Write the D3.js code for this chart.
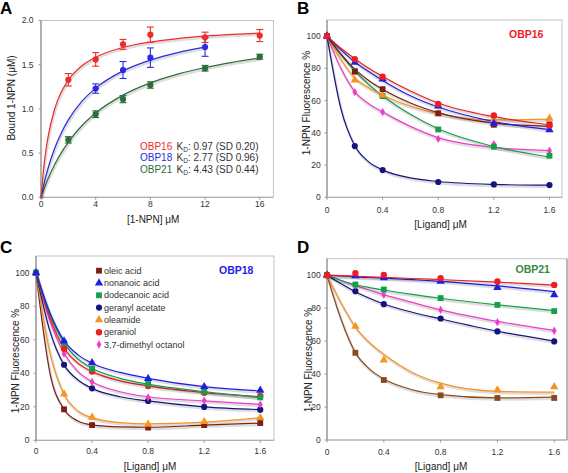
<!DOCTYPE html>
<html><head><meta charset="utf-8">
<script src="https://cdn.jsdelivr.net/npm/d3@7"></script>
<style>body{margin:0;background:#fff}svg{display:block}text{font-family:Arial,"Liberation Sans",sans-serif}</style>
</head><body><svg id="c" width="568" height="473"></svg>
<script>
// ---------- Panel A data ----------
const npnConc = [2, 4, 6, 8, 12, 16];
const obp16Bound = [1.33, 1.56, 1.73, 1.84, 1.81, 1.83];
const obp16Sd = [0.07, 0.077, 0.056, 0.086, 0.058, 0.068];
const obp18Bound = [null, 1.23, 1.44, 1.58, 1.70, null];
const obp18Sd = [null, 0.053, 0.096, 0.11, 0.105, null];
const obp21Bound = [0.65, 0.94, 1.11, 1.27, 1.46, 1.59];
const obp21Sd = [0.036, 0.038, 0.04, 0.036, 0.032, 0.028];
const fitNpn = [0, 0.25, 0.5, 1, 1.5, 2, 3, 4, 6, 8, 10, 12, 14, 16];
const obp16BoundFit = [0, 0.404, 0.67, 1.0, 1.196, 1.327, 1.489, 1.585, 1.696, 1.757, 1.796, 1.823, 1.842, 1.857];
const obp18BoundFit = [0, 0.173, 0.32, 0.554, 0.734, 0.876, 1.087, 1.235, 1.43, 1.552, 1.637, 1.698];
const obp21BoundFit = [0, 0.107, 0.204, 0.37, 0.508, 0.625, 0.812, 0.954, 1.156, 1.294, 1.393, 1.468, 1.527, 1.574];
const proteinNames = ["OBP16", "OBP18", "OBP21"];
const kdTexts = [": 0.97 (SD 0.20)", ": 2.77 (SD 0.96)", ": 4.43 (SD 0.44)"];
const boundTicks = [0, 0.5, 1.0, 1.5, 2.0];
const npnTicks = [0, 4, 8, 12, 16];

// ---------- Panels B, C, D data ----------
const ligands = ["oleic acid", "nonanoic acid", "dodecanoic acid", "geranyl acetate", "oleamide", "geraniol", "3,7-dimethyl octanol"];
const ligandConc = [0, 0.2, 0.4, 0.8, 1.2, 1.6];
const fitConc = [0, 0.1, 0.2, 0.3, 0.4, 0.6, 0.8, 1.2, 1.6];
const fluorTicks = [0, 20, 40, 60, 80, 100];
const ligandTicks = [0, 0.4, 0.8, 1.2, 1.6];

const obp16Fluor = [
  [100, 77.9, 67.1, 52.1, 45.0, 45.2],
  [100, 83.7, 73.3, 56.6, 45.9, 41.9],
  [100, 78.5, 62.8, 42.1, 31.4, 25.8],
  [100, 31.8, 16.9, 9.5, 8.0, 7.6],
  [100, 72.7, 63.4, 51.7, 47.9, 49.0],
  [100, 85.7, 74.8, 57.9, 50.8, 44.6],
  [100, 65.3, 52.9, 36.2, 33.0, 28.9]
];
const obp16Fit = [
  [100, 89, 79.5, 72.5, 67, 58.5, 52.5, 46, 44],
  [100, 91.5, 84, 78, 72.5, 63, 56, 47, 42],
  [100, 88.5, 78.5, 70, 63, 51.5, 42.5, 31.5, 25],
  [100, 55, 32, 22, 17, 12, 9.8, 8, 7.5],
  [100, 85.5, 74, 68, 63.5, 56.5, 52, 48, 48.5],
  [100, 92.5, 86, 80, 75, 66, 58.5, 50, 45],
  [100, 80, 65.5, 58, 53, 44, 37, 31, 29]
];
const obp18Fluor = [
  [100, 18.5, 9.1, 7.6, 9.1, 10.3],
  [100, 59.2, 46.3, 36.8, 32.0, 29.8],
  [100, 58.0, 42.7, 33.6, 29.0, 25.6],
  [100, 45.1, 31.0, 23.5, 19.9, 18.3],
  [100, 27.6, 13.7, 9.5, 11.1, 13.5],
  [100, 54.7, 41.0, 32.4, 28.4, 26.4],
  [100, 51.7, 34.8, 25.6, 23.7, 21.3]
];
const obp18Fit = [
  [100, 40, 18.5, 11.5, 9.2, 8, 7.8, 9, 10.3],
  [100, 76, 59.5, 51, 46, 40.5, 37, 32, 29.5],
  [100, 75, 58, 48.5, 43, 37, 33.5, 29, 25.5],
  [100, 65, 45, 36, 31, 26, 23.5, 20, 18.3],
  [100, 52, 27.5, 17.5, 13.5, 10.5, 9.8, 10.8, 13.5],
  [100, 73, 55, 46, 41, 35.5, 32.5, 28.5, 26],
  [100, 71, 52, 41, 35, 29, 26, 23.5, 21.5]
];
const obp21Fluor = [
  [100, 52.9, 36.4, 27.1, 25.5, 25.5],
  [100, 99.6, 98.4, 96.2, 92.5, 88.1],
  [100, 94.3, 91.3, 86.1, 82.0, 78.2],
  [100, 90.3, 82.4, 73.7, 65.9, 59.8],
  [100, 68.9, 48.5, 32.3, 30.3, 32.3],
  [100, 101.2, 100.2, 98.2, 96.2, 94.1],
  [100, 93.9, 88.1, 79.0, 71.5, 66.3]
];
const obp21Fit = [
  [100, 73, 53, 43, 37, 30.5, 27.5, 25.5, 26],
  [100, 99.5, 99, 98.6, 98.2, 97.3, 96.3, 93.5, 90],
  [100, 96.8, 94.2, 92.5, 91, 88.3, 86, 82, 78.5],
  [100, 94.8, 90, 86, 82.5, 77.5, 73.5, 66, 60],
  [100, 83, 68.5, 59, 52, 41, 34.5, 29.5, 29],
  [100, 99.7, 99.4, 99, 98.7, 98, 97.3, 95.8, 94],
  [100, 96.8, 93.8, 91, 88.2, 83.5, 79, 72, 66.5]
];

// ---------- styles ----------
const ligandColors = ["#7e1f16", "#1e1ee6", "#12a04a", "#14147e", "#f7931e", "#ee1c24", "#f03ccc"];
const ligandColorsD = ["#8a4a1e", "#1e1ee6", "#12a04a", "#14147e", "#f7931e", "#ee1c24", "#f03ccc"];
const ligandShapes = [d3.symbolSquare, d3.symbolTriangle, d3.symbolSquare, d3.symbolCircle, d3.symbolTriangle, d3.symbolCircle, d3.symbolDiamond];
const shapeSizes = [34, 30, 34, 30, 30, 32, 20];
const proteinColors = ["#ee2b2b", "#2a2ae0", "#2b6e3a"];

const svg = d3.select("#c");
const tickColor = "#333";

function frame(g, x, y, opt) {
  const [x0, x1] = x.range();
  const [y1, y0] = y.range();
  g.append("rect").attr("x", x0).attr("y", y0).attr("width", x1 - x0).attr("height", y1 - y0)
    .attr("fill", "none").attr("stroke", "#c4c4c4").attr("stroke-width", 1);
  g.append("line").attr("x1", x0).attr("x2", x0).attr("y1", y0).attr("y2", y1).attr("stroke", "#808080");
  g.append("line").attr("x1", x0).attr("x2", x1).attr("y1", y1).attr("y2", y1).attr("stroke", "#a8a8a8");
  if (opt.rightDark) g.append("line").attr("x1", x1).attr("x2", x1).attr("y1", y0).attr("y2", y1).attr("stroke", "#909090");
  // y ticks
  const yt = g.append("g");
  opt.yTicks.forEach(v => {
    yt.append("line").attr("x1", x0 - 2.5).attr("x2", x0).attr("y1", y(v)).attr("y2", y(v)).attr("stroke", "#999");
    yt.append("text").attr("x", x0 - opt.yPad).attr("y", y(v)).attr("dy", "0.35em")
      .attr("text-anchor", "end").attr("font-size", 8.5).attr("fill", tickColor).text(opt.yFmt(v));
  });
  const xt = g.append("g");
  opt.xTicks.forEach(v => {
    xt.append("line").attr("x1", x(v)).attr("x2", x(v)).attr("y1", y1).attr("y2", y1 + 2.5).attr("stroke", "#999");
    xt.append("text").attr("x", x(v)).attr("y", y1 + opt.xPad).attr("dy", "0.35em")
      .attr("text-anchor", "middle").attr("font-size", 8.5).attr("fill", tickColor).text(opt.xFmt(v));
  });
  g.append("text").attr("x", (x0 + x1) / 2 + (opt.xLabelDx || 0)).attr("y", opt.xLabelY).attr("dy", "0.35em")
    .attr("text-anchor", "middle").attr("font-size", 10).attr("fill", "#222").text(opt.xLabel);
  g.append("text").attr("transform", `translate(${opt.yLabelX},${opt.yLabelY}) rotate(-90)`).attr("dy", "0.35em")
    .attr("text-anchor", "middle").attr("font-size", 10).attr("fill", "#222").text(opt.yLabel);
}

function curve(g, pts, color) {
  const line = d3.line().x(d => d[0]).y(d => d[1]).curve(d3.curveMonotoneX);
  g.append("path").attr("d", line(pts)).attr("transform", "translate(0.8,1.6)")
    .attr("fill", "none").attr("stroke", "#000").attr("stroke-opacity", 0.13).attr("stroke-width", 2.6);
  g.append("path").attr("d", line(pts)).attr("fill", "none").attr("stroke", color).attr("stroke-width", 1.2);
}

function panelLetter(t, x, y) {
  svg.append("text").attr("x", x).attr("y", y).attr("font-size", 17).attr("font-weight", "bold").attr("fill", "#000").text(t);
}

// ---------- Panel A ----------
{
  const g = svg.append("g");
  const x = d3.scaleLinear().domain([0, 17]).range([41, 273.4]);
  const y = d3.scaleLinear().domain([0, 2.0]).range([197.3, 20.5]);
  frame(g, x, y, {
    yTicks: boundTicks, xTicks: npnTicks, yPad: 7.5, xPad: 6.5,
    yFmt: d3.format(".1f"), xFmt: d3.format("d"),
    xLabel: "[1-NPN] \u03BCM", xLabelY: 219, xLabelDx: -4,
    yLabel: "Bound 1-NPN (\u03BCM)", yLabelX: 11, yLabelY: 98
  });
  const fits = [obp16BoundFit, obp18BoundFit, obp21BoundFit];
  const vals = [obp16Bound, obp18Bound, obp21Bound];
  const sds = [obp16Sd, obp18Sd, obp21Sd];
  [2, 1, 0].forEach(i => {
    curve(g, fits[i].map((v, k) => [x(fitNpn[k]), y(v)]), proteinColors[i]);
  });
  [2, 1, 0].forEach(i => {
    vals[i].forEach((v, k) => {
      if (v == null) return;
      const cx = x(npnConc[k]), lo = y(v - sds[i][k]), hi = y(v + sds[i][k]);
      g.append("line").attr("x1", cx).attr("x2", cx).attr("y1", lo).attr("y2", hi).attr("stroke", proteinColors[i]).attr("stroke-width", 1.1);
      g.append("line").attr("x1", cx - 3.5).attr("x2", cx + 3.5).attr("y1", lo).attr("y2", lo).attr("stroke", proteinColors[i]).attr("stroke-width", 1.1);
      g.append("line").attr("x1", cx - 3.5).attr("x2", cx + 3.5).attr("y1", hi).attr("y2", hi).attr("stroke", proteinColors[i]).attr("stroke-width", 1.1);
      g.append("circle").attr("cx", cx).attr("cy", y(v)).attr("r", 3.1).attr("fill", proteinColors[i]);
    });
  });
  proteinNames.forEach((n, i) => {
    const ty = 150 + i * 11.3;
    g.append("text").attr("x", 140).attr("y", ty).attr("font-size", 10).attr("fill", proteinColors[i]).text(n);
    const t = g.append("text").attr("x", 176.5).attr("y", ty).attr("font-size", 10).attr("fill", "#333");
    t.append("tspan").text("K");
    t.append("tspan").attr("font-size", 6.5).attr("dy", 2).text("D");
    t.append("tspan").attr("dy", -2).text(kdTexts[i]);
  });
  panelLetter("A", 0, 14);
}

function fluorPanel(cfg) {
  const g = svg.append("g");
  const x = d3.scaleLinear().domain([0, cfg.xmax]).range([cfg.x0, cfg.x1]);
  const y = d3.scaleLinear().domain([0, 110]).range([cfg.y1, cfg.y0]);
  frame(g, x, y, {
    yTicks: fluorTicks, xTicks: ligandTicks, yPad: cfg.yPad, xPad: cfg.xPad,
    yFmt: d3.format("d"), xFmt: v => v === 0 ? "0" : d3.format(".1f")(v),
    xLabel: "[Ligand] \u03BCM", xLabelY: cfg.xLabelY, xLabelDx: cfg.xLabelDx,
    yLabel: "1-NPN Fluorescence %", yLabelX: cfg.yLabelX, yLabelY: cfg.yLabelY,
    rightDark: cfg.rightDark
  });
  const colors = cfg.colors;
  cfg.order.forEach(i => {
    curve(g, cfg.fit[i].map((v, k) => [x(fitConc[k]), y(v)]), colors[i]);
  });
  cfg.order.forEach(i => {
    cfg.vals[i].forEach((v, k) => {
      g.append("path").attr("d", d3.symbol(ligandShapes[i], shapeSizes[i])())
        .attr("transform", `translate(${x(ligandConc[k])},${y(v)})`).attr("fill", colors[i]);
    });
  });
  g.append("text").attr("x", cfg.titleX).attr("y", cfg.titleY).attr("font-size", 10.5).attr("font-weight", "bold")
    .attr("fill", cfg.titleColor).text(cfg.title);
  panelLetter(cfg.letter, cfg.letterX, cfg.letterY);
  return g;
}

// ---------- Panel B ----------
fluorPanel({
  x0: 327, x1: 562, xmax: 1.69, y0: 20, y1: 197.3, yPad: 6.3, xPad: 12.3,
  xLabelY: 224, xLabelDx: -4, yLabelX: 306.5, yLabelY: 103,
  vals: obp16Fluor, fit: obp16Fit, colors: ligandColors, order: [3, 6, 2, 4, 0, 1, 5],
  title: "OBP16", titleColor: "#ee1c24", titleX: 509, titleY: 38,
  letter: "B", letterX: 297, letterY: 14
});

// ---------- Panel C ----------
const gC = fluorPanel({
  x0: 36, x1: 274, xmax: 1.698, y0: 256, y1: 440.3, yPad: 6.5, xPad: 10.5,
  xLabelY: 466, xLabelDx: -5, yLabelX: 15, yLabelY: 361,
  vals: obp18Fluor, fit: obp18Fit, colors: ligandColors, order: [0, 4, 3, 6, 5, 2, 1],
  title: "OBP18", titleColor: "#1e1ee6", titleX: 219, titleY: 273.5,
  letter: "C", letterX: 0, letterY: 252.5
});
ligands.forEach((n, i) => {
  const ly = 270.7 + i * 12.3;
  gC.append("path").attr("d", d3.symbol(ligandShapes[i], shapeSizes[i])())
    .attr("transform", `translate(99,${ly})`).attr("fill", ligandColors[i]);
  gC.append("text").attr("x", 104).attr("y", ly).attr("dy", "0.35em").attr("font-size", 9).attr("fill", "#333").text(n);
});

// ---------- Panel D ----------
fluorPanel({
  x0: 327, x1: 567, xmax: 1.69, y0: 258.7, y1: 440, yPad: 6.3, xPad: 11.7,
  xLabelY: 466, xLabelDx: -6, yLabelX: 308, yLabelY: 360, rightDark: true,
  vals: obp21Fluor, fit: obp21Fit, colors: ligandColorsD, order: [0, 4, 3, 6, 2, 1, 5],
  title: "OBP21", titleColor: "#3a8a3a", titleX: 515.5, titleY: 273,
  letter: "D", letterX: 297, letterY: 253.3
});
</script></body></html>
